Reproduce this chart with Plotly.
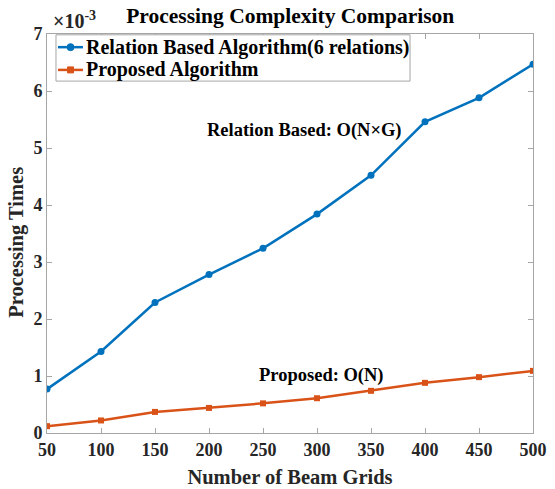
import plotly.graph_objects as go

grids = [50, 100, 150, 200, 250, 300, 350, 400, 450, 500]
relation_based = [0.77, 1.43, 2.29, 2.78, 3.24, 3.84, 4.52, 5.46, 5.88, 6.47]
proposed = [0.12, 0.22, 0.37, 0.44, 0.52, 0.61, 0.74, 0.88, 0.98, 1.09]
y_ticks = [0, 1, 2, 3, 4, 5, 6, 7]
x_ticks = [50, 100, 150, 200, 250, 300, 350, 400, 450, 500]
series_names = ["Relation Based Algorithm(6 relations)", "Proposed Algorithm"]
series_colors = ["#0072BD", "#D95319"]
series_symbols = ["circle", "square"]

FONT = "Liberation Serif"
fig = go.Figure()
for name, vals, col, sym, msize in zip(series_names, [relation_based, proposed],
                                        series_colors, series_symbols, [7, 6]):
    fig.add_trace(go.Scatter(x=grids, y=vals, mode="lines+markers", name=name,
                             line=dict(color=col, width=2.5),
                             marker=dict(symbol=sym, size=msize, color=col),
                             showlegend=False))

axis_common = dict(showgrid=False, zeroline=False, showline=True, linecolor="#a6a6a6",
                   linewidth=1, mirror="ticks", ticks="inside", ticklen=5,
                   tickcolor="#a6a6a6", automargin=False,
                   tickfont=dict(family=FONT, size=18, color="#262626"))
fig.update_layout(
    width=555, height=489,
    margin=dict(l=47, r=22, t=34, b=56),
    paper_bgcolor="white", plot_bgcolor="white",
    font=dict(family=FONT, color="#262626"),
    title=dict(text="<b>Processing Complexity Comparison</b>", x=0.523, xanchor="center",
               y=0.969, yanchor="middle", font=dict(family=FONT, size=21.5, color="black")),
    xaxis=dict(range=[50, 500], tickvals=x_ticks, ticktext=[f"<b>{v}</b>" for v in x_ticks],
               title=dict(text="<b>Number of Beam Grids</b>", standoff=11,
                          font=dict(family=FONT, size=20.5, color="#262626")), **axis_common),
    yaxis=dict(range=[0, 7], tickvals=y_ticks, ticktext=[f"<b>{v}</b>" for v in y_ticks],
               **axis_common),
    showlegend=False,
)

# manual MATLAB-style legend (paper coordinates)
shapes = [dict(type="rect", xref="paper", yref="paper", x0=0.0185, x1=0.747, y0=0.882, y1=0.998,
               line=dict(color="#a6a6a6", width=1), fillcolor="white", layer="above")]
rows_y = [0.967, 0.910]
for ry, name, col, sym in zip(rows_y, series_names, series_colors, series_symbols):
    shapes.append(dict(type="line", xref="paper", yref="paper", x0=0.0226, x1=0.074, y0=ry, y1=ry,
                       line=dict(color=col, width=2.5)))
    rx, ryy = (3.5 / 486, 3.5 / 399) if sym == "circle" else (3 / 486, 3 / 399)
    shapes.append(dict(type="circle" if sym == "circle" else "rect", xref="paper", yref="paper",
                       x0=0.0484 - rx, x1=0.0484 + rx, y0=ry - ryy, y1=ry + ryy,
                       line=dict(color=col, width=1), fillcolor=col))
    fig.add_annotation(text=f"<b>{name}</b>", xref="paper", yref="paper", x=0.077, y=ry,
                       xanchor="left", yanchor="middle", showarrow=False,
                       font=dict(family=FONT, size=20, color="black"))
fig.update_layout(shapes=shapes)

fig.add_annotation(text="<b>Processing Times</b>", xref="paper", yref="paper", x=-0.062, y=0.479,
                   xanchor="center", yanchor="middle", textangle=-90, showarrow=False,
                   font=dict(family=FONT, size=20.5, color="#262626"))
fig.add_annotation(text="<b>×10<sup>-3</sup></b>", xref="paper", yref="paper", x=0.008, y=1.0,
                   xanchor="left", yanchor="bottom", showarrow=False,
                   font=dict(family=FONT, size=20, color="#262626"), yshift=0)
fig.add_annotation(text="<b>Relation Based: O(N×G)</b>", x=196.3, y=5.30, xanchor="left",
                   showarrow=False, font=dict(family=FONT, size=18.5, color="black"))
fig.add_annotation(text="<b>Proposed: O(N)</b>", x=244.4, y=1.01, xanchor="left",
                   showarrow=False, font=dict(family=FONT, size=18.5, color="black"))
fig.write_html("out.html", config={"displayModeBar": False},
               post_script="document.body.style.margin='0';")
